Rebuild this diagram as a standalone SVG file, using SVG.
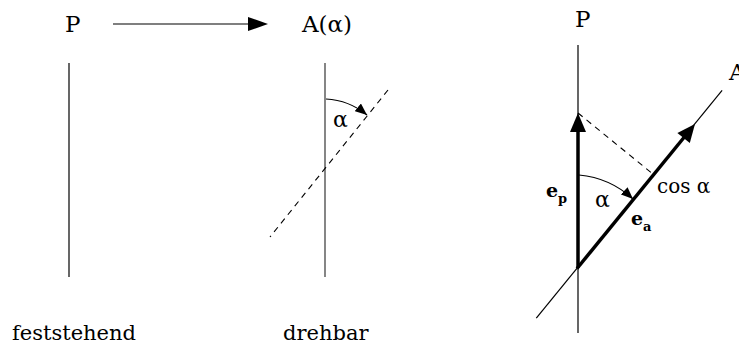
<svg xmlns="http://www.w3.org/2000/svg" width="739" height="344" viewBox="0 0 739 344">
<style>
text{font-family:'DejaVu Serif','Liberation Serif',serif;fill:#000}
.t{font-size:23px}
.m{font-size:22px}
.l{font-size:21px}
.c{font-size:20px}
.b{font-weight:bold;font-size:19px}
.s{font-weight:bold;font-size:13px}
.thin{stroke:#000;stroke-width:1.2;fill:none}
.thick{stroke:#000;stroke-width:3.5;fill:none}
.dash{stroke:#000;stroke-width:1.1;stroke-dasharray:6 5;fill:none}
</style>
<defs>
<marker id="ah" markerUnits="userSpaceOnUse" markerWidth="14" markerHeight="10" refX="12" refY="5" orient="auto">
<path d="M0,0 L12,5 L0,10 Z" fill="#000"/>
</marker>
</defs>
<g id="left">
<text class="t" x="65" y="32">P</text>
<text class="t" x="302" y="32">A(α)</text>
<line class="thin" x1="69" y1="63" x2="69" y2="277"/>
<text class="l" x="12" y="340">feststehend</text>
</g>
<g id="middle">
<line x1="325" y1="63" x2="325" y2="277" stroke="#444" stroke-width="1.3"/>
<line class="dash" x1="388" y1="90" x2="270" y2="237"/>
<text class="m" x="333" y="127">α</text>
<text class="l" x="283" y="340">drehbar</text>
</g>
<g id="right">
<text class="t" x="575" y="27">P</text>
<text class="t" x="729" y="80">A</text>
<line class="thin" x1="578" y1="45" x2="578" y2="333"/>
<line class="thin" x1="536.3" y1="318.2" x2="722.1" y2="90.3"/>
<line class="dash" x1="578" y1="113" x2="653.5" y2="174.5"/>
<text class="b" x="546" y="197">e</text><text class="s" x="558" y="203">p</text>
<text class="m" x="595" y="207">α</text>
<text class="b" x="631" y="225">e</text><text class="s" x="643" y="231">a</text>
<text class="c" x="657" y="193">cos α</text>
</g>
<g id="connectors">
<line class="thin" x1="113" y1="24" x2="250" y2="24"/>
<polygon points="248,17 268,24 248,31" fill="#000"/>
<path class="thin" d="M326,99 A70,70 0 0 1 367,115" marker-end="url(#ah)"/>
<line class="thick" x1="578" y1="268" x2="578" y2="128"/>
<polygon points="578,113 570,132 586,132" fill="#000"/>
<line class="thick" x1="577" y1="268.5" x2="686" y2="135"/>
<polygon points="695,124 689.8,143.1 677.4,132.9" fill="#000"/>
<path class="thin" d="M579,175 A92,92 0 0 1 633,199" marker-end="url(#ah)"/>
</g>
</svg>
